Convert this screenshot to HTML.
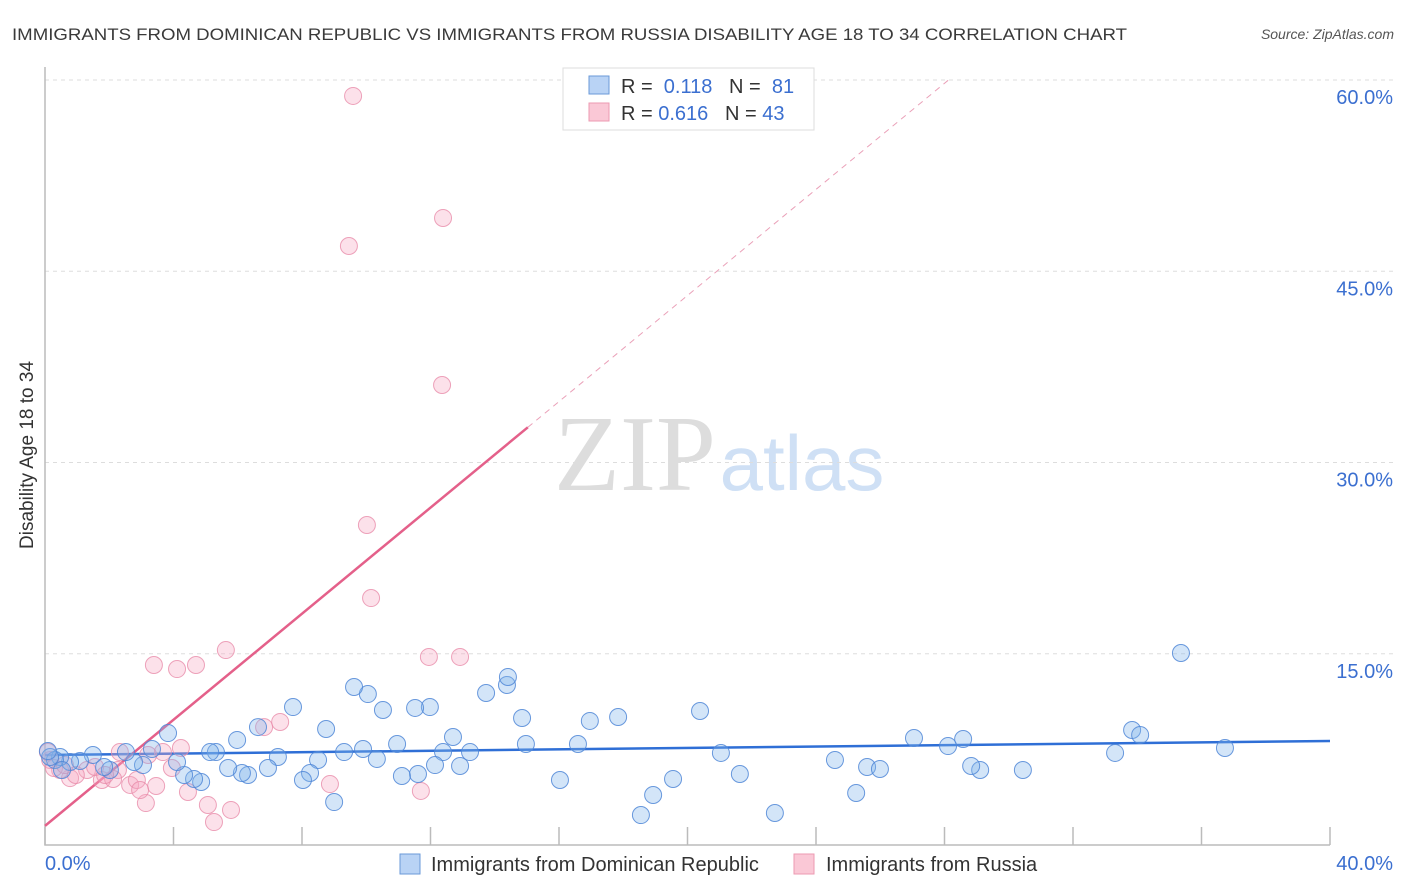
<!DOCTYPE html>
<html><head><meta charset="utf-8"><style>
body{margin:0;background:#fff;}
svg{display:block;font-family:"Liberation Sans",sans-serif;}
</style></head><body>
<svg id="chart" width="1406" height="892">
<text x="12" y="40" font-size="17" fill="#3a3a3a" textLength="1115" lengthAdjust="spacingAndGlyphs">IMMIGRANTS FROM DOMINICAN REPUBLIC VS IMMIGRANTS FROM RUSSIA DISABILITY AGE 18 TO 34 CORRELATION CHART</text>
<text x="1394" y="39" font-size="14" fill="#555" font-style="italic" text-anchor="end">Source: ZipAtlas.com</text>
<text x="635" y="490" font-size="108" fill="#ddd" font-family="Liberation Serif, serif" text-anchor="middle">ZIP</text>
<text x="802" y="490" font-size="78" fill="#cfe0f5" text-anchor="middle">atlas</text>
<g id="grid"></g>
<g id="axes"></g>
<g id="lines"></g>
<g id="pts"></g>
<text transform="translate(33,455) rotate(-90)" font-size="19" fill="#333" text-anchor="middle">Disability Age 18 to 34</text>
<g>
<rect x="563" y="68" width="251" height="62" fill="#fff" stroke="#ddd"/>
<rect x="589" y="76" width="20" height="18" fill="#b9d3f5" stroke="#6a9ad8"/>
<rect x="589" y="103" width="20" height="18" fill="#fac8d6" stroke="#ec9ab2"/>
<text x="621" y="93" font-size="20" fill="#333">R = <tspan fill="#3b6fd0">&#160;0.118</tspan>&#160;&#160;&#160;N = <tspan fill="#3b6fd0">&#160;81</tspan></text>
<text x="621" y="120" font-size="20" fill="#333">R = <tspan fill="#3b6fd0">0.616</tspan>&#160;&#160;&#160;N = <tspan fill="#3b6fd0">43</tspan></text>
</g>
<g>
<rect x="400" y="854" width="20" height="20" fill="#b9d3f5" stroke="#6a9ad8"/>
<text x="431" y="871" font-size="20" fill="#333">Immigrants from Dominican Republic</text>
<rect x="794" y="854" width="20" height="20" fill="#fac8d6" stroke="#ec9ab2"/>
<text x="826" y="871" font-size="20" fill="#333">Immigrants from Russia</text>
</g>
</svg>
<script>
const yTicks=[15,30,45,60];
const yTickLabels=["15.0%","30.0%","45.0%","60.0%"];
const xTicks=[0,4,8,12,16,20,24,28,32,36,40];
const xEndLabels=["0.0%","40.0%"];
const blueX=[35.36,33.84,34.09,36.73,33.31,30.44,29.11,28.83,28.58,28.11,27.05,25.59,25.99,25.25,24.59,22.72,21.63,21.04,20.39,19.55,18.93,18.55,17.84,16.96,16.59,16.03,14.97,14.85,14.38,14.41,13.73,13.23,12.92,12.7,12.39,12.14,11.98,11.52,11.61,11.11,10.96,10.52,10.33,10.05,9.62,9.9,9.31,9.0,8.75,8.5,8.25,8.03,7.72,7.25,6.94,6.63,6.32,6.13,5.98,5.7,5.32,5.14,4.86,4.64,4.33,4.11,3.83,3.33,3.05,2.77,2.52,2.02,1.84,1.49,1.09,0.78,0.47,0.31,0.16,0.09,0.53];
const blueY=[15.06,9.02,8.63,7.61,7.22,5.88,5.88,6.2,8.31,7.76,8.39,6.12,5.96,4.08,6.67,2.51,5.57,7.22,10.51,5.18,3.92,2.35,10.04,9.73,7.92,5.1,7.92,9.96,12.55,13.18,11.92,7.29,6.2,8.47,7.29,6.27,10.82,10.75,5.57,5.41,7.92,10.59,6.75,11.84,12.39,7.53,7.29,3.37,9.1,6.67,5.65,5.1,10.82,6.9,6.04,9.25,5.49,5.65,8.24,6.04,7.29,7.29,4.94,5.18,5.49,6.51,8.78,7.53,6.27,6.51,7.29,5.88,6.12,7.06,6.59,6.51,6.9,6.67,6.9,7.37,5.88];
const pinkX=[9.59,12.39,9.46,12.36,10.02,10.15,5.63,3.39,4.7,4.11,11.95,12.92,7.32,6.82,4.23,3.67,3.21,2.33,8.87,11.7,4.45,5.07,5.79,5.26,3.14,3.46,2.65,2.86,2.27,1.77,1.31,0.78,0.47,0.16,0.28,0.96,1.56,2.12,0.62,0.09,3.95,2.96,1.87];
const pinkY=[58.75,49.18,46.98,36.08,25.1,19.37,15.29,14.12,14.12,13.8,14.75,14.75,9.65,9.25,7.61,7.29,7.06,7.29,4.78,4.24,4.16,3.14,2.75,1.8,3.29,4.63,4.71,5.1,5.88,5.1,5.88,5.25,5.88,6.67,6.04,5.49,6.12,5.18,6.27,7.29,6.04,4.31,5.49];
const blueTrend=[7.06,8.16];
const pinkTrend={intercept:1.5,slope:2.08,solidEnd:15.03};
const X=v=>45+v/40*1285, Y=v=>845-v/60*765;
const NS="http://www.w3.org/2000/svg";
function mk(parent,tag,attrs){const e=document.createElementNS(NS,tag);for(const k in attrs)e.setAttribute(k,attrs[k]);document.getElementById(parent).appendChild(e);return e;}
yTicks.forEach((t,i)=>{
 const l=mk('grid','line',{x1:45,x2:1394,y1:Y(t),y2:Y(t),stroke:'#ddd','stroke-dasharray':'4,4'});
 
 
 const tx=mk('grid','text',{x:1393,y:Y(t)+24,'font-size':20,fill:'#3b6fd0','text-anchor':'end'});
 tx.textContent=yTickLabels[i];
 
 
});
const ax=mk('axes','path',{d:`M45,67 L45,845 L1330,845`,fill:'none',stroke:'#bbb','stroke-width':1.5});


xTicks.forEach(t=>{
 const l=mk('axes','line',{x1:X(t),x2:X(t),y1:827,y2:845,stroke:'#bbb','stroke-width':1.5});
 
 
});
[[0,'start',45],[40,'end',1393]].forEach((d,i)=>{
 const tx=mk('axes','text',{x:d[2],y:870,'font-size':20,fill:'#3b6fd0','text-anchor':d[1]});
 tx.textContent=xEndLabels[i];
 
 
});
function dot(x,y,fill,stroke,r){const c=mk('pts','circle',{cx:X(x),cy:Y(y),r:r,fill:fill,stroke:stroke,'stroke-width':1});return c;}
pinkX.forEach((x,i)=>{const c=dot(x,pinkY[i],'rgba(246,170,195,0.35)','rgba(232,140,170,0.8)',8.5);
 
 });
blueX.forEach((x,i)=>{const c=dot(x,blueY[i],'rgba(130,180,235,0.35)','rgba(80,135,215,0.85)',8.5);
 
 });
const bt=mk('lines','line',{x1:X(0),y1:Y(blueTrend[0]),x2:X(40),y2:Y(blueTrend[1]),stroke:'#2f6fd6','stroke-width':2.5});


const pe=(60-pinkTrend.intercept)/pinkTrend.slope;
const pt=mk('lines','line',{x1:X(0),y1:Y(pinkTrend.intercept),x2:X(pinkTrend.solidEnd),y2:Y(pinkTrend.intercept+pinkTrend.slope*pinkTrend.solidEnd),stroke:'#e4608a','stroke-width':2.5});


const pd=mk('lines','line',{x1:X(pinkTrend.solidEnd),y1:Y(pinkTrend.intercept+pinkTrend.slope*pinkTrend.solidEnd),x2:X(pe),y2:Y(60),stroke:'#eaa0b8','stroke-width':1,'stroke-dasharray':'6,5'});


</script>
</body></html>
